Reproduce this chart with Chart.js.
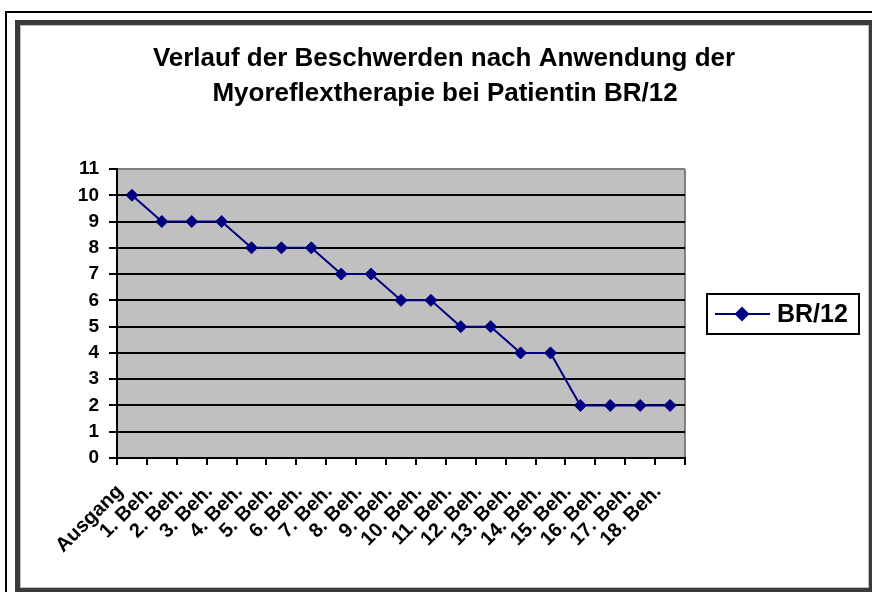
<!DOCTYPE html>
<html>
<head>
<meta charset="utf-8">
<script src="https://cdn.jsdelivr.net/npm/chart.js@4"></script>
<style>
  html, body { margin:0; padding:0; background:#fff; overflow:hidden; }
  body { width:872px; height:592px; position:relative; }
  #outer { position:absolute; left:5px; top:11px; width:900px; height:700px; border-left:2px solid #000; border-top:2px solid #000; }
  #frame { position:absolute; left:15px; top:20px; width:849px; height:563px; border:5px solid #3a3a3a; background:#fff; box-shadow: inset 0 0 0 1px #bdbdbd; }
  #c { position:absolute; left:0; top:0; }
</style>
</head>
<body>
<div id="outer"></div>
<div id="frame"></div>
<canvas id="c" width="872" height="592"></canvas>
<script>
const titleLines = ["Verlauf der Beschwerden nach Anwendung der", "Myoreflextherapie bei Patientin BR/12"];
const categories = ["Ausgang", "1. Beh.", "2. Beh.", "3. Beh.", "4. Beh.", "5. Beh.", "6. Beh.", "7. Beh.", "8. Beh.", "9. Beh.", "10. Beh.", "11. Beh.", "12. Beh.", "13. Beh.", "14. Beh.", "15. Beh.", "16. Beh.", "17. Beh.", "18. Beh."];
const seriesLabel = "BR/12";
const seriesValues = [10, 9, 9, 9, 8, 8, 8, 7, 7, 6, 6, 5, 5, 4, 4, 2, 2, 2, 2];
const yMin = 0, yMax = 11, yStep = 1;

const NAVY = '#000080';
const FONT = '"Liberation Sans", Arial, sans-serif';

const plotBg = {
  id: 'plotBg',
  beforeDraw(chart) {
    const {ctx, chartArea: a} = chart;
    ctx.save();
    ctx.fillStyle = '#c0c0c0';
    ctx.fillRect(a.left, a.top, a.right - a.left, a.bottom - a.top);
    ctx.strokeStyle = '#808080';
    ctx.lineWidth = 2;
    ctx.beginPath();
    ctx.moveTo(a.right, a.top);
    ctx.lineTo(a.right, a.bottom);
    ctx.stroke();
    ctx.restore();
  }
};

const titleAndLegend = {
  id: 'titleAndLegend',
  afterDraw(chart) {
    const ctx = chart.ctx;
    ctx.save();
    ctx.fillStyle = '#000';
    ctx.font = 'bold 26px ' + FONT;
    ctx.textAlign = 'center';
    ctx.textBaseline = 'alphabetic';
    ctx.fillText(titleLines[0], 444, 66);
    ctx.fillText(titleLines[1], 445, 101);
    // legend
    const ds = chart.data.datasets[0];
    ctx.strokeStyle = '#000';
    ctx.lineWidth = 2;
    ctx.strokeRect(707, 294, 152, 40);
    ctx.strokeStyle = ds.borderColor;
    ctx.lineWidth = 2;
    ctx.beginPath();
    ctx.moveTo(715, 314);
    ctx.lineTo(770, 314);
    ctx.stroke();
    ctx.fillStyle = ds.pointBackgroundColor;
    ctx.beginPath();
    ctx.moveTo(742 - 7.5, 314);
    ctx.lineTo(742, 314 - 7.5);
    ctx.lineTo(742 + 7.5, 314);
    ctx.lineTo(742, 314 + 7.5);
    ctx.closePath();
    ctx.fill();
    ctx.fillStyle = '#000';
    ctx.font = 'bold 25px ' + FONT;
    ctx.textAlign = 'left';
    ctx.textBaseline = 'middle';
    ctx.fillText(ds.label, 777, 315);
    ctx.restore();
  }
};

const padL = 20, padT = 169, padR = 187, padB = 10;

new Chart(document.getElementById('c'), {
  type: 'line',
  data: {
    labels: categories,
    datasets: [{
      label: seriesLabel,
      data: seriesValues,
      borderColor: NAVY,
      backgroundColor: NAVY,
      borderWidth: 2,
      pointStyle: 'rectRot',
      pointRadius: 6,
      pointBorderWidth: 1,
      pointBackgroundColor: NAVY,
      pointBorderColor: NAVY,
      tension: 0,
      fill: false
    }]
  },
  options: {
    responsive: false,
    animation: false,
    devicePixelRatio: 1,
    layout: { padding: { left: padL, top: padT, right: padR, bottom: padB } },
    plugins: { legend: { display: false }, title: { display: false }, tooltip: { enabled: false } },
    scales: {
      x: {
        type: 'category',
        offset: true,
        grid: { offset: true, drawOnChartArea: false, color: '#000', lineWidth: 2, tickLength: 7, tickColor: '#000' },
        border: { color: '#000', width: 2 },
        ticks: {
          color: '#000',
          font: { family: FONT, weight: 'bold', size: 20 },
          maxRotation: 45, minRotation: 45,
          autoSkip: false,
          padding: 15,
          labelOffset: -12
        },
        afterFit(scale) { scale.height = 592 - 458 - padB; }
      },
      y: {
        min: yMin, max: yMax,
        grid: {
          color: (c) => (c.tick && c.tick.value === yMax) ? '#808080' : '#000',
          lineWidth: 2,
          tickLength: 8,
          tickColor: '#000'
        },
        border: { color: '#000', width: 2 },
        ticks: {
          stepSize: yStep,
          color: '#000',
          font: { family: FONT, weight: 'bold', size: 19 },
          padding: 10
        },
        afterFit(scale) { scale.width = 117 - padL; }
      }
    }
  },
  plugins: [plotBg, titleAndLegend]
});
</script>
</body>
</html>
